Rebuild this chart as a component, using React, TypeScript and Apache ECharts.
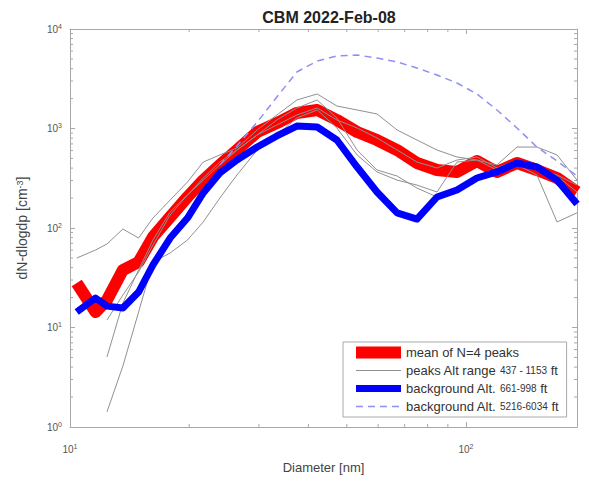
import React, { useEffect, useRef } from 'react';
import * as echarts from 'echarts';

// Diameter grid [nm]
const diameters = [10.4, 11.6, 12.4, 13.6, 14.9, 16.2, 17.9, 19.8, 21.7, 23.9, 26.4, 29.7, 33.3, 37.4, 42.1, 47.2, 53.1, 59.6, 67.0, 75.2, 84.5, 94.9, 106.6, 119.7, 134.5, 151.1, 169.8, 190.7];

// mean of N=4 peaks
const meanPeaks = [28.0, 14.3, 18.9, 37.8, 45.5, 81.3, 129, 205, 303, 430, 608, 922, 1135, 1432, 1535, 1218, 922, 766, 608, 450, 383, 366, 471, 366, 450, 383, 318, 230];

// individual peaks (Alt range 437 - 1153 ft)
const peak1 = [49.9, 60.1, 69.0, 97.7, 79.3, 126, 191, 290, 460, 542, 637, 966, 1368, 1934, 2223, 1683, 1535, 1400, 966, 766, 608, 517, 482, 430, 651, 651, 542, 303];
const peak2 = [null, null, 5.06, 17.6, 37.8, 75.7, 145, 215, 318, 460, 608, 861, 1218, 1607, 1934, 1276, 608, 383, 333, 252, 205, 241, 318, 366, 430, 341, 115, 142];
const peak3 = [null, null, 1.42, 4.1, 14.3, 45.5, 56.1, 75.7, 115, 200, 341, 608, 861, 1276, 1535, 1012, 542, 366, 303, 270, 230, 460, 482, 383, 430, 401, 333, 230];
const peak4 = [null, null, 11.9, 21.2, 36.1, 67.5, 135, 215, 303, 430, 608, 861, 1084, 1368, 1607, 1218, 1012, 803, 608, 460, 401, 482, 517, 401, 482, 401, 341, 270];

// background Alt. 661-998 ft
const backgroundLow = [14.3, 19.8, 16.4, 15.7, 22.7, 42.5, 79.3, 126, 225, 357, 482, 651, 841, 1059, 1035, 766, 410, 230, 142, 123, 205, 241, 318, 366, 450, 410, 303, 174];

// background Alt. 5216-6034 ft
const backgroundHigh = [null, null, null, null, null, null, null, null, null, 430, 667, 1161, 2073, 3698, 4769, 5354, 5479, 5112, 4660, 4057, 3449, 2866, 2222, 1535, 1012, 651, 471, 333];

// minor tick positions (log axes)
const xMinorTicks = [20, 30, 40, 50, 60, 70, 80, 90];
const yMinorTicks = [2, 3, 4, 5, 6, 7, 8, 9, 20, 30, 40, 50, 60, 70, 80, 90, 200, 300, 400, 500, 600, 700, 800, 900, 2000, 3000, 4000, 5000, 6000, 7000, 8000, 9000];

const NAME_MEAN = 'mean of N=4 peaks';
const NAME_PEAKS = 'peaks Alt range 437 - 1153 ft';
const NAME_BGLOW = 'background Alt. 661-998 ft';
const NAME_BGHIGH = 'background Alt. 5216-6034 ft';

const FONT = 'Liberation Sans, Arial, Helvetica, sans-serif';
const AXIS_COLOR = '#a8a8a8';

export default function App() {
  const ref = useRef<HTMLDivElement>(null);

  useEffect(() => {
    document.body.style.margin = '0';
    const chart = echarts.init(ref.current!, null, { renderer: 'svg' });

    const xMin = 10;
    const xMax = 190.7;
    const yMin = 1;
    const yMax = 10000;

    const pairs = (vals: (number | null)[]) =>
      diameters.map((d, i) => [d, vals[i]]).filter((p) => p[1] != null);

    const supFmt = (v: number) => {
      const e = Math.log10(v);
      const r = Math.round(e);
      if (Math.abs(e - r) > 1e-6) return '';
      return '{b|10}{sup|' + r + '}';
    };
    const tickRich = {
      b: { fontSize: 10, color: '#555', fontFamily: FONT },
      sup: { fontSize: 7, color: '#555', fontFamily: FONT, verticalAlign: 'top', padding: [0, 0, 6, 0] },
    };

    const axisLine = { show: true, lineStyle: { color: AXIS_COLOR, width: 1 } };
    const axisTick = { show: true, inside: true, length: 5, lineStyle: { color: AXIS_COLOR } };

    const greySeries = [peak1, peak2, peak3, peak4].map((p) => ({
      name: NAME_PEAKS,
      type: 'line',
      data: pairs(p),
      showSymbol: false,
      symbol: 'none',
      lineStyle: { color: '#909090', width: 1 },
      itemStyle: { color: '#909090' },
      z: 3,
    }));

    const legendRich = {
      n: { fontSize: 13, color: '#333', fontFamily: FONT },
      s: { fontSize: 10, color: '#333', fontFamily: FONT },
    };

    const minorStyle = { stroke: AXIS_COLOR, lineWidth: 1 };

    chart.setOption({
      animation: false,
      backgroundColor: '#ffffff',
      title: {
        text: '{a|CBM 2022-Feb-08}',
        left: 324,
        top: 4,
        textAlign: 'center',
        textStyle: {
          rich: {
            a: { fontSize: 16, fontWeight: 'bold', color: '#222', fontFamily: FONT },
          },
        },
      },
      grid: { left: 70, right: 12, top: 29, bottom: 58 },
      legend: {
        orient: 'vertical',
        left: 343,
        top: 342,
        padding: [4, 8, 4, 7],
        itemGap: 5,
        itemWidth: 45,
        itemHeight: 14,
        backgroundColor: '#ffffff',
        borderColor: AXIS_COLOR,
        borderWidth: 1,
        itemStyle: { opacity: 0 },
        data: [
          { name: NAME_MEAN, lineStyle: { width: 12, color: '#ff0000' }, itemStyle: { opacity: 0 } },
          { name: NAME_PEAKS, lineStyle: { width: 1, color: '#909090' }, itemStyle: { opacity: 0 } },
          { name: NAME_BGLOW, lineStyle: { width: 7, color: '#0000ff' }, itemStyle: { opacity: 0 } },
          { name: NAME_BGHIGH, lineStyle: { width: 1.5, color: '#8f8ff5', type: [7, 5] }, itemStyle: { opacity: 0 } },
        ],
        formatter: (name: string) => {
          if (name === NAME_PEAKS) return '{n|peaks Alt range }{s|437 - 1153}{n| ft}';
          if (name === NAME_BGLOW) return '{n|background Alt. }{s|661-998}{n| ft}';
          if (name === NAME_BGHIGH) return '{n|background Alt. }{s|5216-6034}{n| ft}';
          return '{n|' + name + '}';
        },
        textStyle: { rich: legendRich },
      },
      xAxis: [
        {
          type: 'log',
          logBase: 10,
          min: xMin,
          max: xMax,
          position: 'bottom',
          name: 'Diameter [nm]',
          nameLocation: 'middle',
          nameGap: 34,
          nameTextStyle: { fontSize: 13, color: '#444', fontFamily: FONT },
          axisLine,
          axisTick,
          axisLabel: { formatter: supFmt, rich: tickRich, margin: 16, showMaxLabel: false },
          splitLine: { show: false },
        },
        {
          type: 'log',
          logBase: 10,
          min: xMin,
          max: xMax,
          position: 'top',
          axisLine,
          axisTick,
          axisLabel: { show: false },
          splitLine: { show: false },
        },
      ],
      yAxis: [
        {
          type: 'log',
          logBase: 10,
          min: yMin,
          max: yMax,
          position: 'left',
          name: 'dN-dlogdp [cm{sup|-3}]',
          nameLocation: 'middle',
          nameGap: 41,
          nameTextStyle: {
            fontSize: 14,
            color: '#444',
            fontFamily: FONT,
            rich: { sup: { fontSize: 9, color: '#444', fontFamily: FONT, verticalAlign: 'top' } },
          },
          axisLine,
          axisTick,
          axisLabel: { formatter: supFmt, rich: tickRich, margin: 8 },
          splitLine: { show: false },
        },
        {
          type: 'log',
          logBase: 10,
          min: yMin,
          max: yMax,
          position: 'right',
          axisLine,
          axisTick,
          axisLabel: { show: false },
          splitLine: { show: false },
        },
      ],
      series: [
        {
          name: NAME_MEAN,
          type: 'line',
          data: pairs(meanPeaks),
          showSymbol: false,
          symbol: 'none',
          lineStyle: { color: '#ff0000', width: 12, join: 'round', cap: 'butt' },
          itemStyle: { color: '#ff0000' },
          z: 2,
        },
        ...greySeries,
        {
          name: NAME_BGLOW,
          type: 'line',
          data: pairs(backgroundLow),
          showSymbol: false,
          symbol: 'none',
          lineStyle: { color: '#0000ff', width: 7, join: 'round', cap: 'butt' },
          itemStyle: { color: '#0000ff' },
          z: 4,
        },
        {
          name: NAME_BGHIGH,
          type: 'line',
          data: pairs(backgroundHigh),
          showSymbol: false,
          symbol: 'none',
          lineStyle: { color: '#8f8ff5', width: 1.5, type: [7, 5] },
          itemStyle: { color: '#8f8ff5' },
          z: 5,
        },
        {
          name: 'xMinor',
          type: 'custom',
          silent: true,
          clip: false,
          data: xMinorTicks.map((v) => [v, yMin]),
          renderItem: (_p: any, api: any) => {
            const v = api.value(0);
            const b = api.coord([v, yMin]);
            const t = api.coord([v, yMax]);
            return {
              type: 'group',
              children: [
                { type: 'line', shape: { x1: b[0], y1: b[1], x2: b[0], y2: b[1] - 3 }, style: minorStyle },
                { type: 'line', shape: { x1: t[0], y1: t[1], x2: t[0], y2: t[1] + 3 }, style: minorStyle },
              ],
            };
          },
          z: 1,
        },
        {
          name: 'yMinor',
          type: 'custom',
          silent: true,
          clip: false,
          data: yMinorTicks.map((v) => [xMin, v]),
          renderItem: (_p: any, api: any) => {
            const v = api.value(1);
            const l = api.coord([xMin, v]);
            const r = api.coord([xMax, v]);
            return {
              type: 'group',
              children: [
                { type: 'line', shape: { x1: l[0], y1: l[1], x2: l[0] + 3, y2: l[1] }, style: minorStyle },
                { type: 'line', shape: { x1: r[0], y1: r[1], x2: r[0] - 3, y2: r[1] }, style: minorStyle },
              ],
            };
          },
          z: 1,
        },
      ],
    });

    return () => chart.dispose();
  }, []);

  return <div ref={ref} style={{ width: 589, height: 485 }} />;
}
